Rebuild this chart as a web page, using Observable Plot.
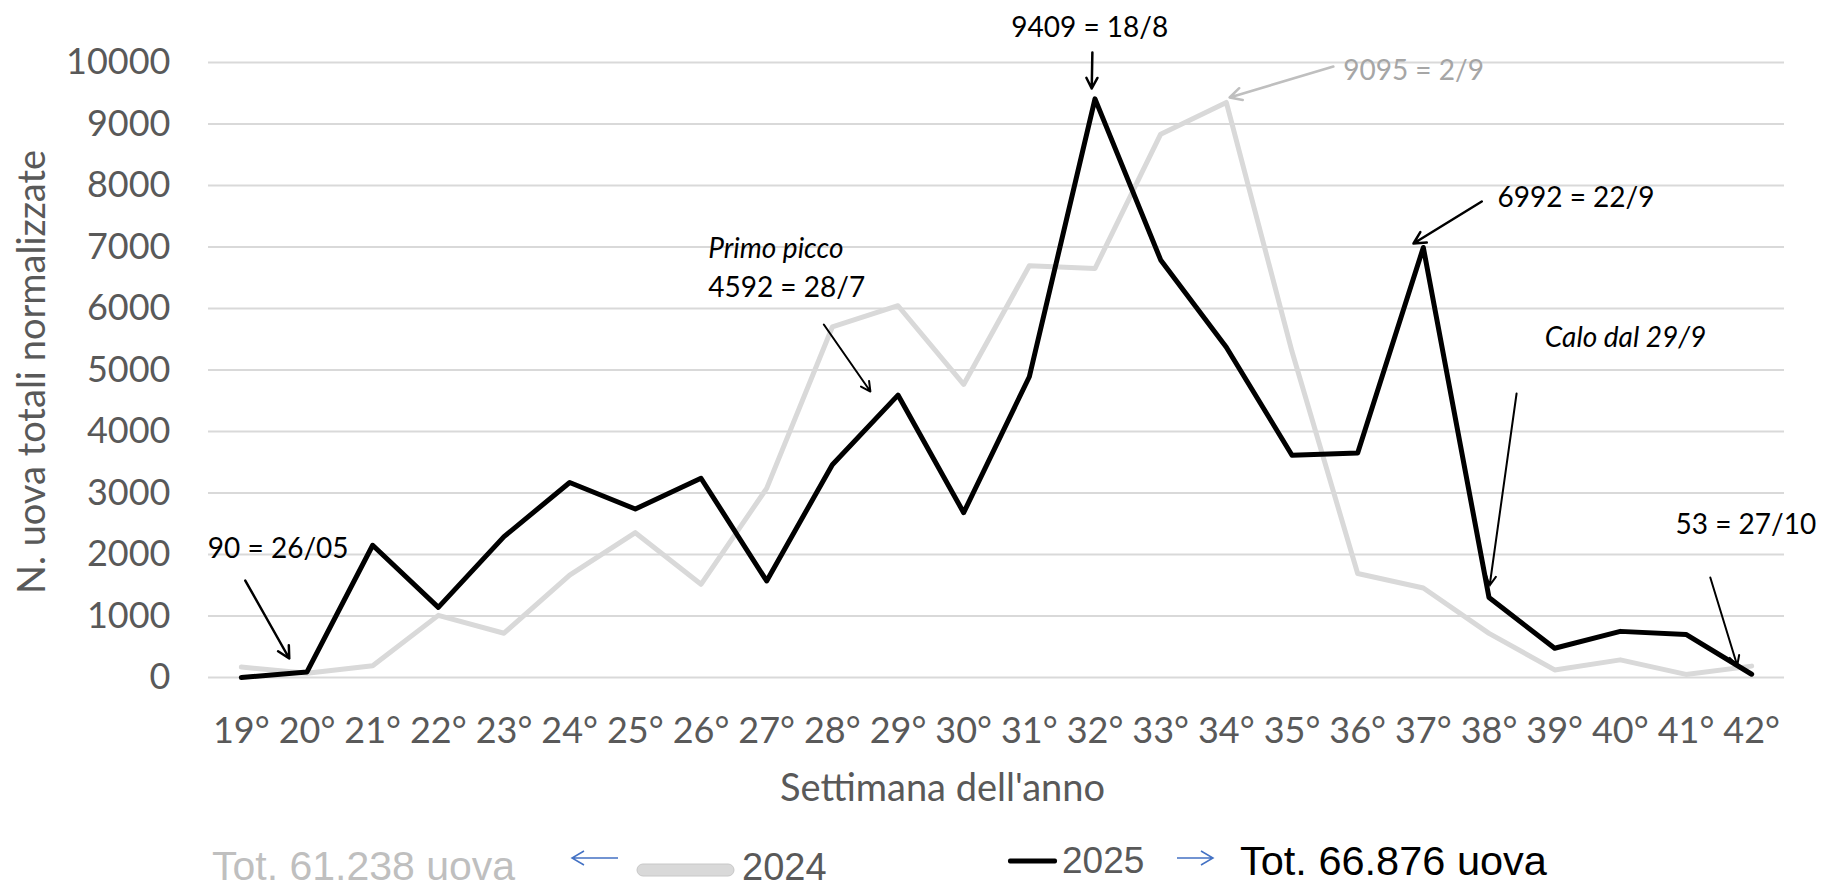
<!DOCTYPE html>
<html>
<head>
<meta charset="utf-8">
<script src="https://cdn.jsdelivr.net/npm/d3@7"></script>
<script src="https://cdn.jsdelivr.net/npm/@observablehq/plot@0.6"></script>
<style>
  html, body { margin: 0; padding: 0; background: #ffffff; }
  #chart svg { display: block; }
</style>
</head>
<body>
<div id="chart"></div>
<script>
// ---- data ----
const weeks = [19, 20, 21, 22, 23, 24, 25, 26, 27, 28, 29, 30, 31, 32, 33, 34, 35, 36, 37, 38, 39, 40, 41, 42];
const eggs2025 = [0, 90, 2150, 1140, 2290, 3170, 2740, 3240, 1570, 3460, 4592, 2680, 4890, 9409, 6790, 5370, 3615, 3650, 6992, 1300, 475, 750, 700, 53];
const eggs2024 = [170, 70, 190, 1010, 720, 1665, 2355, 1515, 3075, 5700, 6045, 4765, 6695, 6650, 8835, 9350, 5300, 1690, 1455, 718, 123, 287, 50, 185];
const yTicks = [0, 1000, 2000, 3000, 4000, 5000, 6000, 7000, 8000, 9000, 10000];
const xTickLabels = weeks.map(w => w + "°");

const yTitle = "N. uova totali normalizzate";
const xTitle = "Settimana dell'anno";

// annotation texts (week / value positions)
const noteTexts  = ["90 = 26/05", "Primo picco", "4592 = 28/7", "9409 = 18/8", "9095 = 2/9", "6992 = 22/9", "Calo dal 29/9", "53 = 27/10"];
const noteWeek   = [18.49, 26.11, 26.11, 31.92, 35.78, 38.13, 38.85, 40.84];
const noteValue  = [2081, 6967, 6325, 10561, 9862, 7789, 5520, 2472];
const noteAnchor = ["start", "start", "start", "middle", "start", "start", "start", "start"];
const noteColor  = ["#000", "#000", "#000", "#000", "#a6a6a6", "#000", "#000", "#000"];
const noteStyle  = ["normal", "italic", "normal", "normal", "normal", "normal", "italic", "normal"];

// annotation arrows
const arrowW1 = [19.06, 27.87, 31.96, 35.63, 37.89, 38.42, 41.37];
const arrowV1 = [1577, 5740, 10163, 9935, 7740, 4618, 1626];
const arrowW2 = [19.73, 28.58, 31.95, 34.05, 36.85, 38.01, 41.78];
const arrowV2 = [309, 4650, 9577, 9431, 7057, 1496, 195];
const arrowColor = ["#000", "#000", "#000", "#bfbfbf", "#000", "#000", "#000"];
const arrowWidth = [2.5, 2, 2.5, 2.5, 2.5, 2, 2];

// ---- tables built from the arrays ----
const rows2025 = weeks.map((w, i) => ({week: w, value: eggs2025[i]}));
const rows2024 = weeks.map((w, i) => ({week: w, value: eggs2024[i]}));
const notes = noteTexts.map((t, i) => ({text: t, week: noteWeek[i], value: noteValue[i], anchor: noteAnchor[i], color: noteColor[i], style: noteStyle[i]}));
const arrows = arrowW1.map((w, i) => ({w1: w, v1: arrowV1[i], w2: arrowW2[i], v2: arrowV2[i], color: arrowColor[i], sw: arrowWidth[i]}));

const font = "Lato, 'Open Sans', sans-serif";

const noteMarks = ["start", "middle"].flatMap(anchor =>
  ["normal", "italic"].map(style =>
    Plot.text(notes.filter(d => d.anchor === anchor && d.style === style), {
      x: "week", y: "value", text: "text", fill: "color",
      textAnchor: anchor, lineAnchor: "middle",
      fontSize: 28, fontStyle: style, fontFamily: font
    })
  )
);

const arrowMarks = arrows.map(a =>
  Plot.arrow([a], {x1: "w1", y1: "v1", x2: "w2", y2: "v2", stroke: "color", strokeWidth: a.sw, headLength: 8, headAngle: 55})
);

const chart = Plot.plot({
  width: 1821,
  height: 830,
  marginLeft: 208,
  marginRight: 37,
  marginTop: 62,
  marginBottom: 153,
  style: {fontFamily: font, background: "#ffffff"},
  x: {type: "linear", domain: [18.5, 42.5]},
  y: {domain: [0, 10000]},
  marks: [
    Plot.ruleY(yTicks, {stroke: "#d9d9d9", strokeWidth: 2}),
    Plot.axisY({ticks: yTicks, tickSize: 0, tickPadding: 38, fontSize: 36, fill: "#595959", label: null, tickFormat: d => String(d)}),
    Plot.axisX({ticks: weeks, tickSize: 0, tickPadding: 40, fontSize: 36, fill: "#595959", label: null,
      tickFormat: d => xTickLabels[weeks.indexOf(d)]}),
    Plot.text([xTitle], {text: d => d, frameAnchor: "bottom", textAnchor: "middle", dx: -54, dy: 111, lineAnchor: "middle", fontSize: 38, fill: "#595959"}),
    Plot.text([yTitle], {text: d => d, frameAnchor: "left", textAnchor: "middle", rotate: -90, dx: -176, dy: 2, lineAnchor: "middle", fontSize: 38, fill: "#595959"}),
    Plot.lineY(rows2024, {x: "week", y: "value", stroke: "#d9d9d9", strokeWidth: 5}),
    Plot.lineY(rows2025, {x: "week", y: "value", stroke: "#000000", strokeWidth: 5}),
    ...arrowMarks,
    ...noteMarks
  ]
});

document.getElementById("chart").appendChild(chart);

// ---- legend below the plot ----
const legend = d3.create("svg")
  .attr("width", 1821).attr("height", 59)
  .style("display", "block")
  .style("font-family", "'Liberation Sans', Arial, sans-serif");

legend.append("text").attr("x", 212).attr("y", 50).attr("font-size", 41).attr("fill", "#bfbfbf").text("Tot. 61.238 uova");
// left blue arrow
legend.append("path").attr("d", "M618,28 L572,28 M584,21 L572,28 L584,35").attr("fill", "none").attr("stroke", "#4472c4").attr("stroke-width", 1.5);
legend.append("rect").attr("x", 637).attr("y", 34).attr("width", 97).attr("height", 12).attr("rx", 6)
  .attr("fill", "#d9d9d9").attr("stroke", "#c8c8c8").attr("stroke-width", 1);
legend.append("text").attr("x", 742).attr("y", 50).attr("font-size", 38).attr("fill", "#595959").text("2024");

legend.append("rect").attr("x", 1008).attr("y", 28.5).attr("width", 49).attr("height", 5).attr("rx", 2).attr("fill", "#000");
legend.append("text").attr("x", 1062).attr("y", 43).attr("font-size", 37).attr("fill", "#595959").text("2025");
legend.append("path").attr("d", "M1177,28 L1213,28 M1201,21 L1213,28 L1201,35").attr("fill", "none").attr("stroke", "#4472c4").attr("stroke-width", 1.5);
legend.append("text").attr("x", 1240).attr("y", 45).attr("font-size", 41.5).attr("fill", "#000").text("Tot. 66.876 uova");

document.getElementById("chart").appendChild(legend.node());
</script>
</body>
</html>
